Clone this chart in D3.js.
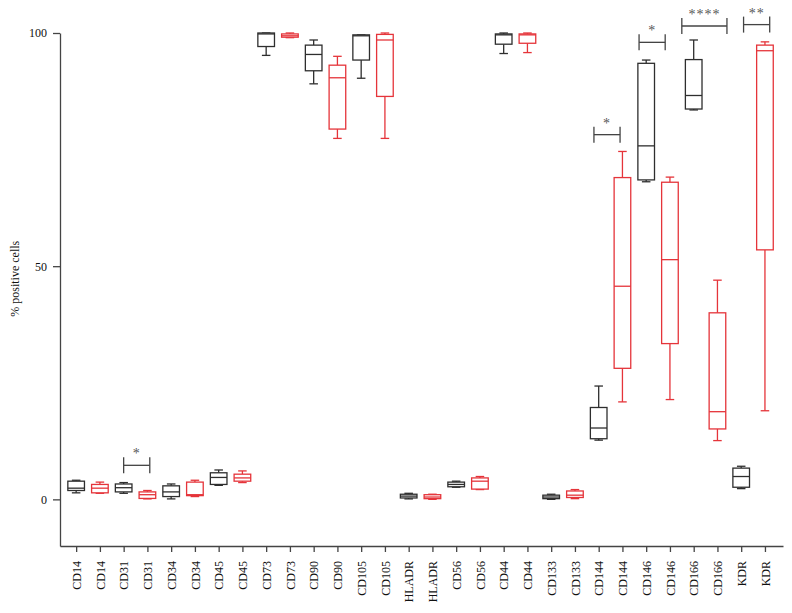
<!DOCTYPE html>
<html>
<head>
<meta charset="utf-8">
<script src="https://cdn.jsdelivr.net/npm/d3@7"></script>
<style>
  html, body { margin: 0; padding: 0; background: #fff; }
  svg { display: block; }
  text { font-family: "Liberation Serif", "DejaVu Serif", serif; }
</style>
</head>
<body>
<svg id="chart" width="792" height="613"></svg>
<script>
// ---------- DATA ----------
const categories = ["CD14","CD14","CD31","CD31","CD34","CD34","CD45","CD45","CD73","CD73",
  "CD90","CD90","CD105","CD105","HLADR","HLADR","CD56","CD56","CD44","CD44",
  "CD133","CD133","CD144","CD144","CD146","CD146","CD166","CD166","KDR","KDR"];
const groups = categories.map((c, i) => i % 2 === 0 ? "black" : "red");
const mins    = [1.4, 1.3, 1.3, 0.1, 0.1, 0.6, 3.0, 3.6, 95.2, 99.0, 89.1, 77.4, 90.3, 77.4, 0.1, 0.0, 2.6, 2.1, 95.6, 95.8, 0.0, 0.15, 12.7, 20.9, 68.1, 21.4, 83.5, 12.6, 2.3, 19.0];
const q1s     = [1.9, 1.4, 1.6, 0.2, 0.6, 0.8, 3.2, 3.9, 97.1, 99.1, 91.9, 79.4, 94.2, 86.4, 0.3, 0.15, 2.7, 2.2, 97.6, 97.8, 0.15, 0.4, 13.0, 28.1, 68.5, 33.4, 83.7, 15.1, 2.6, 53.5];
const medians = [2.4, 2.4, 2.5, 1.0, 1.6, 1.0, 4.7, 4.6, 99.8, 99.4, 95.4, 90.4, 99.4, 98.5, 0.7, 0.5, 3.2, 3.9, 99.6, 99.6, 0.5, 0.9, 15.3, 45.7, 75.8, 51.4, 86.6, 18.8, 4.9, 96.2];
const q3s     = [3.9, 3.2, 3.3, 1.6, 2.9, 3.7, 5.7, 5.4, 100, 99.8, 97.4, 93.1, 99.6, 99.7, 1.1, 1.0, 3.7, 4.6, 99.8, 99.8, 0.9, 1.8, 19.7, 69.0, 93.5, 68.0, 94.3, 40.0, 6.7, 97.4];
const maxs    = [4.1, 3.7, 3.6, 1.9, 3.3, 4.1, 6.3, 6.1, 100, 100, 98.5, 95.0, 99.6, 100, 1.3, 1.1, 3.9, 4.9, 100, 100, 1.1, 2.1, 24.3, 74.6, 94.2, 69.1, 98.5, 47.0, 7.1, 98.1];

// significance brackets (positions in category index units, height in %)
const sigStart  = [2.0, 21.8, 23.7, 25.5, 28.1];
const sigEnd    = [3.1, 22.9, 24.8, 27.4, 29.2];
const sigLevel  = [7.3, 78.2, 98.0, 101.5, 101.8];
const sigLabels = ["*", "*", "*", "****", "**"];

const yTicks = [0, 50, 100];
const yLabel = "% positive cells";

// ---------- CHART ----------
const svg = d3.select("#chart");
const colors = { black: "#2e2e2e", red: "#e5343a" };

const x = d3.scaleLinear().domain([-0.68, 29.76]).range([60, 783]);
const y = d3.scaleLinear().domain([-10, 100]).range([546, 33]);
const step = x(1) - x(0);
const boxW = step * 0.7;
const capW = step * 0.36;

// axes
const xAxis = d3.axisBottom(x)
  .tickValues(d3.range(categories.length))
  .tickFormat(i => categories[i])
  .tickSizeOuter(0).tickSizeInner(6);
const gx = svg.append("g").attr("transform", `translate(0,${y(-10)})`).call(xAxis);
gx.selectAll("text")
  .attr("transform", "rotate(-90)")
  .attr("text-anchor", "end")
  .attr("x", -15)
  .attr("y", 0)
  .attr("dy", "0.35em")
  .style("font-size", "12px")
  .attr("fill", "#111");

const yAxis = d3.axisLeft(y).tickValues(yTicks).tickSizeOuter(0).tickSizeInner(7).tickPadding(6);
const gy = svg.append("g").attr("transform", `translate(${x(-0.68)},0)`).call(yAxis);
gy.selectAll("text").style("font-size", "12px").attr("fill", "#111");

[gx, gy].forEach(g => {
  g.select(".domain").attr("stroke", "#444").attr("stroke-width", 1.3);
  g.selectAll(".tick line").attr("stroke", "#444").attr("stroke-width", 1.3);
});

svg.append("text")
  .attr("transform", `translate(19,${y(47.3)}) rotate(-90)`)
  .attr("text-anchor", "middle")
  .style("font-size", "12px")
  .attr("fill", "#111")
  .text(yLabel);

// boxes
const boxes = svg.append("g").selectAll("g.box")
  .data(categories.map((c, i) => ({ i, g: groups[i], min: mins[i], q1: q1s[i], med: medians[i], q3: q3s[i], max: maxs[i] })))
  .join("g")
  .attr("class", "box")
  .attr("stroke", d => colors[d.g])
  .attr("stroke-width", 1.3)
  .attr("fill", "none");

boxes.append("line")
  .attr("x1", d => x(d.i)).attr("x2", d => x(d.i))
  .attr("y1", d => y(d.q3)).attr("y2", d => y(d.max));
boxes.append("line")
  .attr("x1", d => x(d.i)).attr("x2", d => x(d.i))
  .attr("y1", d => y(d.q1)).attr("y2", d => y(d.min));
boxes.append("line")
  .attr("x1", d => x(d.i) - capW / 2).attr("x2", d => x(d.i) + capW / 2)
  .attr("y1", d => y(d.max)).attr("y2", d => y(d.max));
boxes.append("line")
  .attr("x1", d => x(d.i) - capW / 2).attr("x2", d => x(d.i) + capW / 2)
  .attr("y1", d => y(d.min)).attr("y2", d => y(d.min));
boxes.append("rect")
  .attr("x", d => x(d.i) - boxW / 2).attr("width", boxW)
  .attr("y", d => y(d.q3)).attr("height", d => Math.max(0.5, y(d.q1) - y(d.q3)))
  .attr("fill", "#fff");
boxes.append("line")
  .attr("x1", d => x(d.i) - boxW / 2).attr("x2", d => x(d.i) + boxW / 2)
  .attr("y1", d => y(d.med)).attr("y2", d => y(d.med));

// significance brackets
const sig = svg.append("g").selectAll("g.sig")
  .data(sigLabels.map((l, k) => ({ l, s: sigStart[k], e: sigEnd[k], v: sigLevel[k] })))
  .join("g")
  .attr("stroke", "#444").attr("stroke-width", 1.3);
sig.append("line")
  .attr("x1", d => x(d.s)).attr("x2", d => x(d.e))
  .attr("y1", d => y(d.v)).attr("y2", d => y(d.v));
sig.append("line")
  .attr("x1", d => x(d.s)).attr("x2", d => x(d.s))
  .attr("y1", d => y(d.v) - 8).attr("y2", d => y(d.v) + 8);
sig.append("line")
  .attr("x1", d => x(d.e)).attr("x2", d => x(d.e))
  .attr("y1", d => y(d.v) - 8).attr("y2", d => y(d.v) + 8);
sig.append("text")
  .attr("x", d => (x(d.s) + x(d.e)) / 2)
  .attr("y", d => y(d.v) - 7)
  .attr("text-anchor", "middle")
  .attr("stroke", "none")
  .attr("fill", "#555")
  .style("font-size", "14px")
  .style("letter-spacing", "1px")
  .text(d => d.l);
</script>
</body>
</html>
